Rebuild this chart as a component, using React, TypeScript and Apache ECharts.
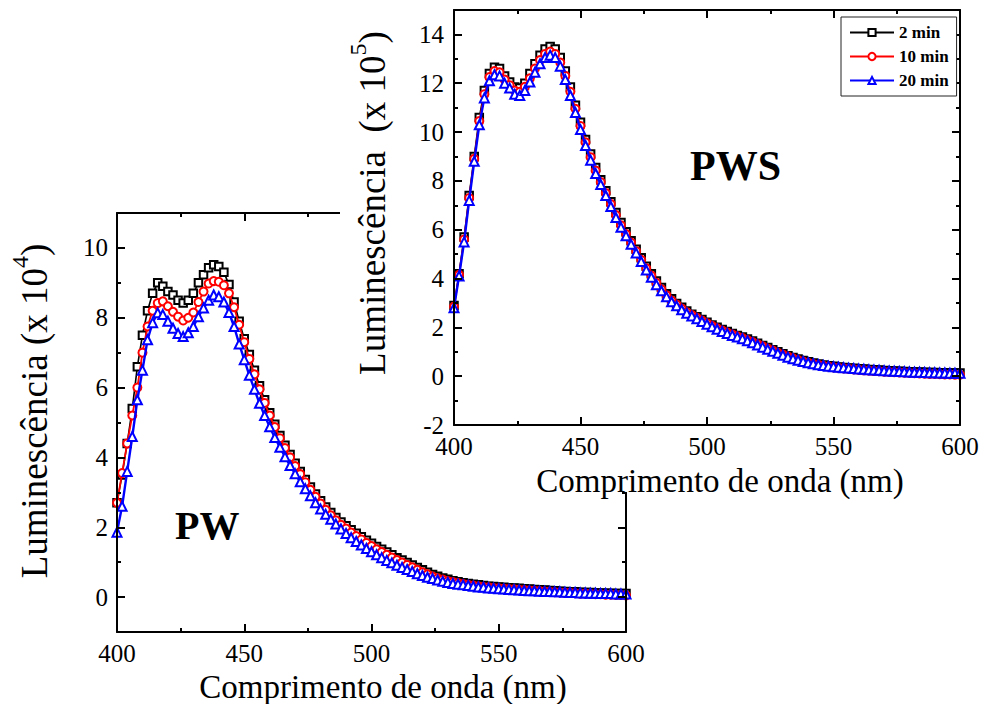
import React, { useEffect, useRef } from "react";
import * as echarts from "echarts";

// Emission wavelength grid (nm), sampled every 2 nm
const WAVELENGTH: number[] = Array.from({ length: 101 }, (_, i) => 400 + 2 * i);

const SERIES_NAMES = ["2 min", "10 min", "20 min"];

// PW sample, luminescence in units of 10^4
const PW_2MIN = [
  2.7, 3.5, 4.4, 5.4, 6.6, 7.5, 8.2, 8.7, 9.0, 8.9,
  8.75, 8.65, 8.5, 8.42, 8.5, 8.7, 9.0, 9.23, 9.43, 9.52,
  9.47, 9.3, 8.95, 8.45, 7.9, 7.4, 6.95, 6.5, 6.05, 5.65,
  5.28, 4.95, 4.63, 4.35, 4.08, 3.83, 3.6, 3.37, 3.15, 2.95,
  2.76, 2.58, 2.42, 2.28, 2.15, 2.04, 1.93, 1.83, 1.73, 1.63,
  1.54, 1.45, 1.37, 1.29, 1.21, 1.13, 1.06, 0.99, 0.92, 0.85,
  0.78, 0.71, 0.65, 0.6, 0.55, 0.51, 0.47, 0.44, 0.41, 0.39,
  0.37, 0.35, 0.33, 0.31, 0.3, 0.29, 0.28, 0.27, 0.26, 0.25,
  0.24, 0.23, 0.22, 0.21, 0.2, 0.19, 0.18, 0.17, 0.16, 0.15,
  0.15, 0.14, 0.13, 0.13, 0.12, 0.12, 0.11, 0.11, 0.1, 0.1,
  0.1,
];
const PW_10MIN = [
  2.7, 3.55, 4.4, 5.2, 6.0, 7.0, 7.75, 8.2, 8.42, 8.47,
  8.33, 8.17, 8.03, 7.92, 8.0, 8.15, 8.45, 8.75, 8.98, 9.05,
  9.03, 8.93, 8.7, 8.3, 7.8, 7.3, 6.82, 6.38, 5.95, 5.56,
  5.2, 4.87, 4.55, 4.27, 4.0, 3.75, 3.52, 3.29, 3.07, 2.87,
  2.68, 2.5, 2.34, 2.2, 2.07, 1.96, 1.85, 1.75, 1.65, 1.55,
  1.46, 1.37, 1.29, 1.21, 1.13, 1.06, 0.99, 0.92, 0.85, 0.78,
  0.71, 0.65, 0.59, 0.54, 0.5, 0.46, 0.43, 0.4, 0.37, 0.35,
  0.33, 0.31, 0.29, 0.28, 0.26, 0.25, 0.24, 0.23, 0.22, 0.21,
  0.2, 0.19, 0.18, 0.17, 0.16, 0.15, 0.14, 0.13, 0.12, 0.12,
  0.11, 0.1, 0.1, 0.09, 0.08, 0.08, 0.07, 0.07, 0.06, 0.06,
  0.05,
];
const PW_20MIN = [
  1.86, 2.6, 3.6, 4.6, 5.65, 6.5, 7.37, 7.86, 8.14, 8.09,
  7.9, 7.7, 7.55, 7.46, 7.57, 7.75, 8.03, 8.28, 8.5, 8.65,
  8.6, 8.45, 8.15, 7.75, 7.25, 6.8, 6.35, 5.95, 5.55, 5.2,
  4.88, 4.57, 4.29, 4.02, 3.77, 3.53, 3.3, 3.1, 2.9, 2.7,
  2.52, 2.37, 2.23, 2.09, 1.95, 1.82, 1.7, 1.59, 1.49, 1.39,
  1.3, 1.21, 1.13, 1.05, 0.98, 0.91, 0.85, 0.79, 0.73, 0.67,
  0.62, 0.57, 0.53, 0.49, 0.45, 0.42, 0.39, 0.37, 0.35, 0.33,
  0.31, 0.29, 0.28, 0.26, 0.25, 0.24, 0.23, 0.22, 0.21, 0.2,
  0.19, 0.18, 0.18, 0.17, 0.16, 0.16, 0.15, 0.15, 0.14, 0.13,
  0.13, 0.12, 0.12, 0.11, 0.11, 0.1, 0.1, 0.1, 0.09, 0.09,
  0.09,
];

// PWS sample, luminescence in units of 10^5
const PWS_2MIN = [
  2.9, 4.2, 5.7, 7.4, 9.0, 10.6, 11.7, 12.4, 12.65, 12.6,
  12.3, 12.05, 11.85, 11.8, 12.0, 12.4, 12.8, 13.15, 13.4, 13.5,
  13.4, 13.05, 12.5, 11.85, 11.1, 10.4, 9.7, 9.1, 8.55, 8.05,
  7.6, 7.15, 6.7, 6.3, 5.92, 5.55, 5.2, 4.85, 4.5, 4.2,
  3.9, 3.63, 3.38, 3.17, 2.98, 2.82, 2.67, 2.54, 2.43, 2.32,
  2.21, 2.1, 2.0, 1.91, 1.83, 1.75, 1.67, 1.6, 1.52, 1.44,
  1.35, 1.26, 1.17, 1.08, 1.0, 0.92, 0.84, 0.77, 0.7, 0.64,
  0.59, 0.54, 0.5, 0.46, 0.43, 0.41, 0.38, 0.36, 0.34, 0.32,
  0.3, 0.29, 0.27, 0.26, 0.25, 0.23, 0.22, 0.21, 0.2, 0.19,
  0.18, 0.17, 0.17, 0.16, 0.15, 0.15, 0.14, 0.14, 0.13, 0.13,
  0.13,
];
const PWS_10MIN = [
  2.85, 4.15, 5.6, 7.3, 8.9, 10.45, 11.55, 12.25, 12.5, 12.45,
  12.15, 11.92, 11.7, 11.65, 11.85, 12.2, 12.6, 12.95, 13.2, 13.3,
  13.2, 12.85, 12.3, 11.65, 10.95, 10.25, 9.58, 8.97, 8.42, 7.95,
  7.5, 7.05, 6.6, 6.18, 5.82, 5.47, 5.12, 4.77, 4.42, 4.12,
  3.82, 3.56, 3.31, 3.1, 2.93, 2.77, 2.62, 2.5, 2.39, 2.28,
  2.17, 2.06, 1.96, 1.87, 1.79, 1.71, 1.63, 1.56, 1.48, 1.4,
  1.31, 1.22, 1.13, 1.05, 0.96, 0.88, 0.8, 0.73, 0.66, 0.6,
  0.55, 0.5, 0.46, 0.42, 0.39, 0.36, 0.34, 0.32, 0.3, 0.28,
  0.26, 0.24, 0.23, 0.21, 0.2, 0.18, 0.17, 0.16, 0.15, 0.14,
  0.13, 0.12, 0.11, 0.1, 0.09, 0.09, 0.08, 0.07, 0.07, 0.06,
  0.06,
];
const PWS_20MIN = [
  2.8, 4.1, 5.5, 7.2, 8.8, 10.3, 11.4, 12.1, 12.35, 12.3,
  12.0, 11.8, 11.55, 11.5, 11.7, 12.05, 12.45, 12.8, 13.05, 13.15,
  13.05, 12.7, 12.15, 11.5, 10.8, 10.1, 9.45, 8.85, 8.3, 7.85,
  7.4, 6.95, 6.5, 6.1, 5.75, 5.4, 5.05, 4.7, 4.35, 4.05,
  3.75, 3.5, 3.25, 3.05, 2.88, 2.72, 2.58, 2.46, 2.35, 2.24,
  2.13, 2.02, 1.92, 1.83, 1.75, 1.67, 1.6, 1.53, 1.45, 1.37,
  1.28, 1.19, 1.1, 1.02, 0.94, 0.86, 0.78, 0.71, 0.65, 0.6,
  0.55, 0.51, 0.47, 0.44, 0.41, 0.39, 0.37, 0.35, 0.33, 0.31,
  0.29, 0.28, 0.26, 0.25, 0.24, 0.22, 0.21, 0.2, 0.19, 0.18,
  0.17, 0.16, 0.16, 0.15, 0.14, 0.14, 0.13, 0.13, 0.12, 0.12,
  0.12,
];

// Axis tick values
const X_MIN = 400;
const X_MAX = 600;
const X_STEP = 50;
const PW_Y_MIN = -1;
const PW_Y_MAX = 11;
const PW_Y_MAJOR = [0, 2, 4, 6, 8, 10];
const PW_Y_MINOR = [-1, 1, 3, 5, 7, 9, 11];
const PWS_Y_MIN = -2;
const PWS_Y_MAX = 15;
const PWS_Y_MAJOR = [-2, 0, 2, 4, 6, 8, 10, 12, 14];
const PWS_Y_MINOR = [-1, 1, 3, 5, 7, 9, 11, 13, 15];

const FONT = "Liberation Serif";
const AXIS_COLOR = "#000";

// Tick labels are drawn as rich text so the serif face is applied reliably
const tickLabel = {
  color: "#000",
  fontSize: 25,
  fontFamily: FONT,
  formatter: "{t|{value}}",
  rich: {
    t: { fontFamily: FONT, fontSize: 25, color: "#000", fontWeight: "normal" },
  },
};

function buildXAxes(gridIndex: number, z: number) {
  const common = {
    type: "value",
    gridIndex,
    min: X_MIN,
    max: X_MAX,
    interval: X_STEP,
    z,
    splitLine: { show: false },
    minorSplitLine: { show: false },
    axisLine: { show: true, onZero: false, lineStyle: { color: AXIS_COLOR, width: 2 } },
    axisTick: { show: true, inside: true, length: 8, lineStyle: { color: AXIS_COLOR, width: 2 } },
    minorTick: { show: true, splitNumber: 2, length: 4, lineStyle: { color: AXIS_COLOR, width: 2 } },
  };
  return [
    {
      ...common,
      position: "bottom",
      axisLabel: { show: true, margin: 9, ...tickLabel },
    },
    { ...common, position: "top", axisLabel: { show: false } },
  ];
}

function buildYAxes(
  gridIndex: number,
  min: number,
  max: number,
  majors: number[],
  minors: number[],
  labelMargin: number,
  z: number
) {
  const base = {
    type: "value",
    gridIndex,
    min,
    max,
    interval: 1,
    z,
    splitLine: { show: false },
  };
  const line = { show: true, onZero: false, lineStyle: { color: AXIS_COLOR, width: 2 } };
  const noLine = { show: false, onZero: false };
  const major = {
    show: true,
    inside: true,
    length: 8,
    customValues: majors,
    lineStyle: { color: AXIS_COLOR, width: 2 },
  };
  const minor = {
    show: true,
    inside: true,
    length: 4,
    customValues: minors,
    lineStyle: { color: AXIS_COLOR, width: 2 },
  };
  return [
    {
      ...base,
      position: "left",
      axisLine: line,
      axisTick: major,
      axisLabel: { show: true, customValues: majors, margin: labelMargin, ...tickLabel },
    },
    { ...base, position: "left", axisLine: noLine, axisTick: minor, axisLabel: { show: false } },
    { ...base, position: "right", axisLine: line, axisTick: major, axisLabel: { show: false } },
    { ...base, position: "right", axisLine: noLine, axisTick: minor, axisLabel: { show: false } },
  ];
}

const STYLES = [
  { color: "#000000", symbol: "emptyRect", symbolSize: 7.5, width: 1.6 },
  { color: "#ff0000", symbol: "emptyCircle", symbolSize: 8, width: 1.8 },
  { color: "#0000ff", symbol: "emptyTriangle", symbolSize: 9, width: 2.4 },
];

function buildSeries(
  values: number[][],
  xAxisIndex: number,
  yAxisIndex: number,
  z: number
) {
  return values.map((vals, k) => ({
    type: "line",
    name: SERIES_NAMES[k],
    xAxisIndex,
    yAxisIndex,
    z: z + k * 0.1,
    data: WAVELENGTH.map((w, i) => [w, vals[i]]),
    symbol: STYLES[k].symbol,
    symbolSize: STYLES[k].symbolSize,
    showSymbol: true,
    lineStyle: { color: STYLES[k].color, width: STYLES[k].width },
    itemStyle: { color: STYLES[k].color, borderColor: STYLES[k].color, borderWidth: 1.4 },
    emphasis: { disabled: true },
    animation: false,
  }));
}

function lumTitle(exp: string, gap: string) {
  return {
    text: `{a|Luminescência${gap}(x 10}{s|${exp}}{a|)}`,
    rich: {
      a: { fontSize: 37, fontFamily: FONT, fill: "#000" },
      s: { fontSize: 24, fontFamily: FONT, fill: "#000", padding: [0, 0, 28, 0] },
    },
    align: "center",
    verticalAlign: "middle",
  };
}

export default function App() {
  const ref = useRef<HTMLDivElement>(null);

  useEffect(() => {
    if (!ref.current) return;
    const chart = echarts.init(ref.current, undefined, { renderer: "svg" });

    const xAxis = [...buildXAxes(0, 3), ...buildXAxes(1, 12)];
    const yAxis = [
      ...buildYAxes(0, PW_Y_MIN, PW_Y_MAX, PW_Y_MAJOR, PW_Y_MINOR, 9, 3),
      ...buildYAxes(1, PWS_Y_MIN, PWS_Y_MAX, PWS_Y_MAJOR, PWS_Y_MINOR, 10, 12),
    ];

    const series = [
      ...buildSeries([PW_2MIN, PW_10MIN, PW_20MIN], 0, 0, 2),
      ...buildSeries([PWS_2MIN, PWS_10MIN, PWS_20MIN], 2, 4, 11),
    ];

    chart.setOption({
      animation: false,
      backgroundColor: "#fff",
      textStyle: { fontFamily: FONT, color: "#000" },
      grid: [
        { left: 117, top: 213, right: 357, bottom: 72, outerBoundsMode: "none", containLabel: false },
        { left: 454, top: 10, right: 23, bottom: 279, outerBoundsMode: "none", containLabel: false },
      ],
      xAxis,
      yAxis,
      series,
      legend: {
        show: true,
        data: SERIES_NAMES,
        orient: "vertical",
        left: 841,
        top: 17,
        z: 20,
        padding: [7, 8, 7, 8],
        itemGap: 7,
        itemWidth: 44,
        itemHeight: 9,
        borderColor: "#222",
        borderWidth: 1,
        backgroundColor: "#fff",
        selectedMode: false,
        textStyle: { fontFamily: FONT, fontSize: 17, fontWeight: "bold", color: "#000" },
      },
      graphic: {
        elements: [
          // back panel titles and label
          {
            type: "text",
            z: 3,
            x: 383,
            y: 687,
            style: {
              text: "Comprimento de onda (nm)",
              fontFamily: FONT,
              fontSize: 33,
              fill: "#000",
              align: "center",
              verticalAlign: "middle",
            },
          },
          {
            type: "text",
            z: 3,
            x: 34,
            y: 411,
            rotation: Math.PI / 2,
            style: lumTitle("4", " "),
          },
          {
            type: "text",
            z: 3,
            x: 175,
            y: 525,
            style: {
              text: "PW",
              fontFamily: FONT,
              fontSize: 40,
              fontWeight: "bold",
              fill: "#000",
              align: "left",
              verticalAlign: "middle",
            },
          },
          // white sheet under the front panel
          {
            type: "rect",
            z: 5,
            shape: { x: 340, y: 0, width: 643, height: 492 },
            style: { fill: "#fff" },
          },
          // front panel titles and label
          {
            type: "text",
            z: 15,
            x: 720,
            y: 481,
            style: {
              text: "Comprimento de onda (nm)",
              fontFamily: FONT,
              fontSize: 33,
              fill: "#000",
              align: "center",
              verticalAlign: "middle",
            },
          },
          {
            type: "text",
            z: 15,
            x: 372,
            y: 203,
            rotation: Math.PI / 2,
            style: lumTitle("5", "  "),
          },
          {
            type: "text",
            z: 15,
            x: 690,
            y: 166,
            style: {
              text: "PWS",
              fontFamily: FONT,
              fontSize: 42,
              fontWeight: "bold",
              fill: "#000",
              align: "left",
              verticalAlign: "middle",
            },
          },
        ],
      },
    });

    return () => chart.dispose();
  }, []);

  return (
    <div
      ref={ref}
      style={{ position: "fixed", left: 0, top: 0, width: 983, height: 704, background: "#fff" }}
    />
  );
}
